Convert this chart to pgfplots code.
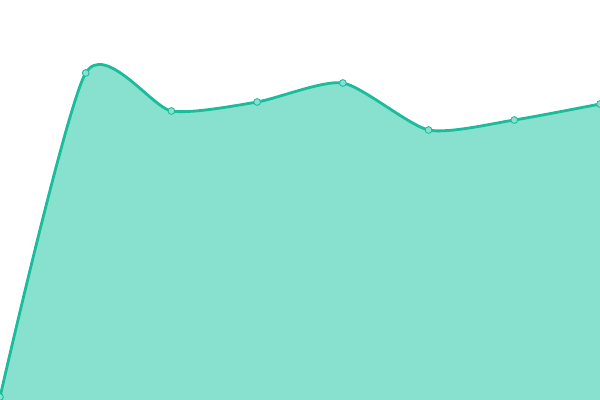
\documentclass[border=0pt]{standalone}
\usepackage{pgfplots}
\pgfplotsset{compat=1.18}
\definecolor{lineclr}{HTML}{1ABC9C}
\definecolor{fillclr}{HTML}{88E0CF}
\begin{document}
\begin{tikzpicture}
\begin{axis}[
    scale only axis,
    width=15cm, height=10cm,
    xmin=0, xmax=7,
    ymin=0, ymax=400,
    axis lines=none,
    ticks=none,
    clip=true,
    clip marker paths=true,
]
\addplot[smooth, tension=0.4, draw=none, fill=fillclr]
    coordinates {
    (0,3) (1,327) (2,289) (3,298) (4,317) (5,270) (6,280) (7,296)
} \closedcycle;
\addplot[smooth, tension=0.4, draw=lineclr, line width=2pt,
    mark=*, mark size=2.4pt,
    mark options={fill=fillclr, draw=lineclr, line width=0.6pt}]
    coordinates {
    (0,3) (1,327) (2,289) (3,298) (4,317) (5,270) (6,280) (7,296)
};
\end{axis}
\pgfresetboundingbox
\useasboundingbox (0,0) rectangle (15cm,10cm);
\end{tikzpicture}
\end{document}
